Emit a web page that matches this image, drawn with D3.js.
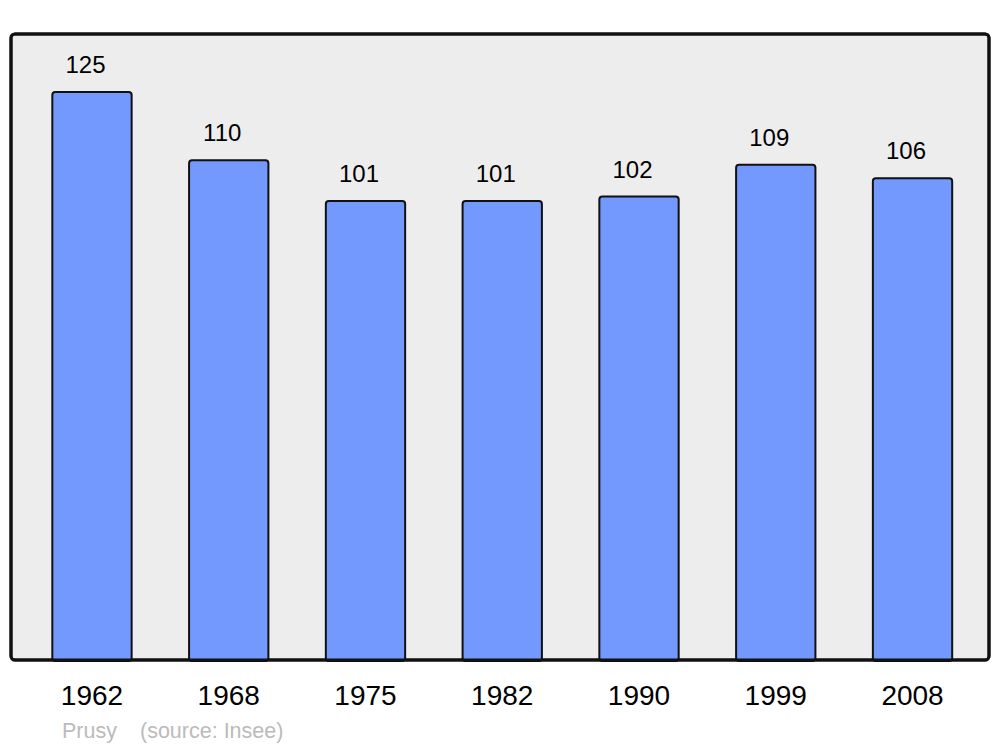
<!DOCTYPE html>
<html><head><meta charset="utf-8">
<script src="https://cdn.jsdelivr.net/npm/d3@7"></script>
<style>body{margin:0;background:#fff}svg{display:block}</style>
</head><body>
<svg id="c" width="1000" height="747"></svg>
<script>
const years = ["1962","1968","1975","1982","1990","1999","2008"];
const population = [125,110,101,101,102,109,106];
const footerName = "Prusy";
const footerSource = "(source: Insee)";

const svg = d3.select("#c");
const font = "Liberation Sans, Arial, sans-serif";
const x = d3.scaleBand().domain(years).range([23.6, 980.9]).paddingInner(0.42).paddingOuter(0.21);
const y = d3.scaleLinear().domain([0,125]).range([660,92]);

svg.append("rect").attr("x",11).attr("y",34).attr("width",978).attr("height",626)
  .attr("rx",4).attr("fill","#ededed").attr("stroke","#111").attr("stroke-width",3);

svg.selectAll("rect.bar").data(population).join("rect").attr("class","bar")
  .attr("x",(d,i)=>x(years[i])).attr("width",x.bandwidth())
  .attr("y",d=>y(d)).attr("height",d=>y(0)-y(d)+1)
  .attr("rx",3).attr("fill","#7399ff").attr("stroke","#111").attr("stroke-width",2);

svg.append("rect").attr("x",11).attr("y",34).attr("width",978).attr("height",626)
  .attr("rx",4).attr("fill","none").attr("stroke","#111").attr("stroke-width",3);

svg.selectAll("text.val").data(population).join("text").attr("class","val")
  .attr("x",(d,i)=>x(years[i])+x.bandwidth()/2-6.5).attr("y",d=>y(d)-19)
  .attr("text-anchor","middle").attr("font-family",font).attr("font-size",24)
  .attr("fill","#000").text(d=>d);

const xAxis = d3.axisBottom(x).tickSize(0).tickPadding(0);
const g = svg.append("g").attr("transform","translate(0,660)").call(xAxis);
g.select(".domain").remove();
g.selectAll("text").attr("font-family",font).attr("font-size",28).attr("fill","#000")
  .attr("dy",null).attr("y",45);

svg.append("text").attr("x",62).attr("y",738).attr("font-family",font).attr("font-size",21.5)
  .attr("fill","#bbb").text(footerName);
svg.append("text").attr("x",140).attr("y",738).attr("font-family",font).attr("font-size",21.5)
  .attr("fill","#bbb").text(footerSource);
</script>
</body></html>
